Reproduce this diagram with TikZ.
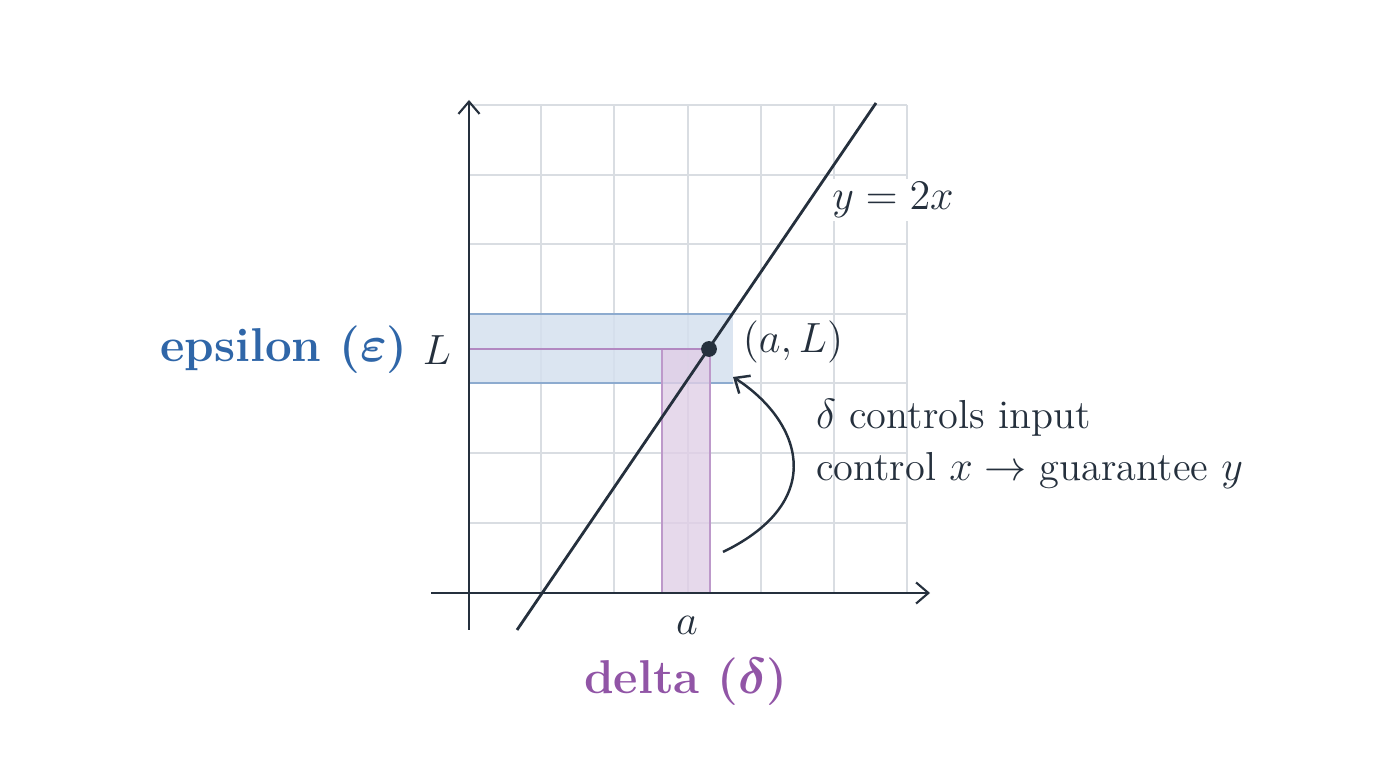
\documentclass[tikz,border=0pt]{standalone}
\usepackage{amsmath,bm}
\usetikzlibrary{arrows.meta}
\definecolor{ink}{HTML}{25303D}
\definecolor{epsblue}{HTML}{2F66A8}
\definecolor{delpurple}{HTML}{9155A6}
\definecolor{gridc}{HTML}{D9DDE2}
\begin{document}
\begin{tikzpicture}[x=0.01cm,y=-0.01cm,
  lbl/.style={font=\fontsize{11.5}{14}\selectfont, text=ink, inner sep=1pt},
  big/.style={font=\fontsize{13.5}{16}\selectfont\bfseries, inner sep=1pt},
  axis/.style={draw=ink, line width=0.6pt, -{Straight Barb[length=3.5pt,width=6pt]}}]
\useasboundingbox (0,0) rectangle (1376,768);
% grid
\foreach \x in {541,614,688,761,834,907} \draw[gridc, line width=0.5pt] (\x,593) -- (\x,105);
\foreach \y in {523,453,383,314,244,175,105} \draw[gridc, line width=0.5pt] (469,\y) -- (907,\y);
% bands
\fill[epsblue!20, opacity=0.85] (469,314) rectangle (733,383);
\draw[epsblue!55, line width=0.5pt] (469,314) -- (733,314) (469,383) -- (733,383);
\fill[delpurple!28, opacity=0.8] (662,349) rectangle (710,593);
\draw[delpurple!60, line width=0.5pt] (662,349) -- (662,593) (710,349) -- (710,593);
\draw[delpurple!70, line width=0.6pt] (469,349) -- (709,349);
% axes
\coordinate (xs) at (431,593); \coordinate (xe) at (930,593);
\coordinate (ys) at (469,630); \coordinate (ye) at (469,100);
\draw[axis] (xs) -- (xe);
\draw[axis] (ys) -- (ye);
% line
\coordinate (l1) at (517,630); \coordinate (l2) at (876,103);
\draw[ink, line width=0.8pt] (l1) -- (l2);
\node[circle, fill=ink, inner sep=0pt, minimum size=4.5pt] (P) at (709,349) {};
% labels
\node[lbl, fill=white] (f) at (893,200) {$y = 2x$};
\node[lbl] (pl) at (793,342) {$(a, L)$};
\node[lbl] (L) at (437,350) {$L$};
\node[big, text=epsblue, anchor=east] (eps) at (412,350) {epsilon ($\bm{\varepsilon}$)};
\node[lbl] (a) at (687,625) {$a$};
\node[big, text=delpurple] (del) at (686,682) {delta ($\bm{\delta}$)};
\node[lbl, align=left, anchor=west] (txt) at (812,444) {$\delta$ controls input\\[1pt] control $x \rightarrow$ guarantee $y$};
\coordinate (c1) at (723,552); \coordinate (c2) at (733,377);
\draw[ink, line width=0.7pt, -{Straight Barb[length=3.5pt,width=6pt]}] (c1) .. controls (830,500) and (800,420) .. (c2);
\end{tikzpicture}
\end{document}
